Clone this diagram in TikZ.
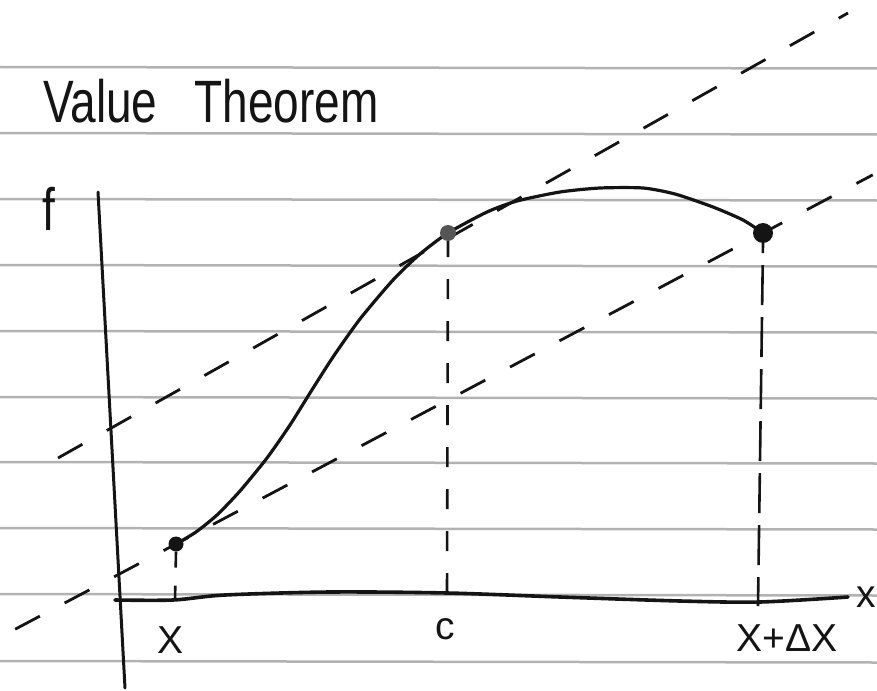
\documentclass[tikz,border=0pt]{standalone}
\usepackage{fontspec}
\setmainfont{Liberation Sans}
\usepackage{graphicx}
\usetikzlibrary{calc}
\definecolor{paperGray}{RGB}{178,178,178}
\definecolor{inkBlack}{RGB}{20,20,20}
\definecolor{dotGray}{RGB}{85,85,85}
\tikzset{
  ruling/.style={draw=paperGray, line width=2.5pt},
  axis/.style={draw=inkBlack, line width=3pt, line cap=round},
  curve/.style={draw=inkBlack, line width=3.2pt, line cap=round},
  guide/.style={draw=inkBlack, line width=2.8pt, dash pattern=on 28pt off 28pt},
  drop/.style={draw=inkBlack, line width=2.6pt, dash pattern=on 20pt off 22pt},
  longdrop/.style={draw=inkBlack, line width=2.6pt, dash pattern=on 40pt off 12pt},
  handtitle/.style={font=\fontsize{46}{52}\selectfont, text=inkBlack, inner sep=0pt},
  ticklabel/.style={font=\fontsize{39}{44}\selectfont, text=inkBlack, inner sep=0pt},
  marker/.style={circle, fill=inkBlack, inner sep=0pt, minimum size=17pt}
}

\begin{document}
\begin{tikzpicture}[x=1pt,y=-1pt]
  \useasboundingbox (0,0) rectangle (877,690);
  % lined paper
  \foreach \ry in {67,133,199,265,331,397,462,528,594,661}
    \draw[ruling] (0,\ry) -- (877,\ry+1.5);

  % points on f
  \coordinate (px) at (176,544);
  \coordinate (pc) at (448,233);
  \coordinate (pxd) at (763,233);
  \coordinate (tanlo) at (58,458);
  \coordinate (tanhi) at (848,13);
  \coordinate (footx) at (175,600);
  \coordinate (footc) at (447,594);
  \coordinate (footxd) at (758,606);

  % tangent and secant
  \draw[guide] (tanlo) -- (tanhi);
  \draw[guide] ($(px)!-0.274!(pxd)$) -- ($(px)!1.187!(pxd)$);

  % axes
  \draw[axis] (98,192) -- (125,688);
  \draw[axis, line width=3.6pt] plot[smooth] coordinates {(115,600) (173,600) (225,595) (330,592) (447,593) (560,597) (680,601) (760,602) (848,597)};

  % curve
  \draw[curve] plot[smooth, tension=0.4] coordinates {(px) (196,532) (217,515) (240,491) (267,458) (290,425) (310,393) (333,357) (360,319) (393,280) (420,254) (pc) (487,212) (517,201) (560,192) (600,188) (643,188) (675,194) (713,207) (743,220) (pxd)};

  % dots
  \node[marker, minimum size=15pt] (ptx) at (px) {};
  \node[marker, fill=dotGray, minimum size=16pt] (ptc) at (pc) {};
  \node[marker, minimum size=20pt] (ptxd) at (pxd) {};

  % drops to the axis
  \draw[drop, dash pattern=on 16pt off 18pt] (ptx.south) -- (footx);
  \draw[drop, dash phase=4pt] (ptc.south) -- (footc);
  \draw[longdrop, dash phase=30pt] (ptxd.south) -- (footxd);

  % labels
  \node[handtitle, anchor=base west] (title) at (43,122) {\scalebox{1}[1.3]{Value\hspace{37pt}Theorem}};
  \node[handtitle, anchor=base] (flabel) at (49,230) {\scalebox{1}[1.3]{f}};
  \node[ticklabel, anchor=base] (lblx) at (171,653) {X};
  \node[ticklabel, anchor=base] (lblc) at (445,639) {c};
  \node[ticklabel, anchor=base] (lblxd) at (787,651) {X+ΔX};
  \node[ticklabel, anchor=base] (lblaxis) at (866,607) {x};
\end{tikzpicture}
\end{document}
